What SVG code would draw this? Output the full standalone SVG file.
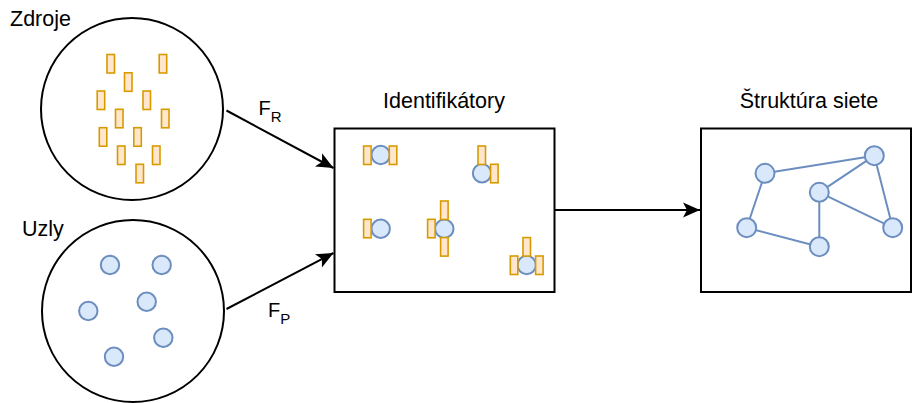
<svg xmlns="http://www.w3.org/2000/svg" width="913" height="403" viewBox="0 0 913 403">
<style>
.t{font-family:"Liberation Sans",Arial,sans-serif;font-size:21.5px;fill:#000}
.f{font-family:"Liberation Sans",Arial,sans-serif;font-size:20px;fill:#000}
.s{font-size:15px}
.big{fill:#fff;stroke:#000;stroke-width:2}
.r{fill:#ffe6cc;stroke:#d79b00;stroke-width:1.6}
.c{fill:#dae8fc;stroke:#6c8ebf;stroke-width:2}
.e{stroke:#6c8ebf;stroke-width:2;fill:none}
.a{stroke:#000;stroke-width:2;fill:none;marker-end:url(#ah)}
</style>
<defs>
<marker id="ah" markerUnits="userSpaceOnUse" markerWidth="20" markerHeight="20" viewBox="-18 -9 20 18" refX="0" refY="0" orient="auto">
<path d="M0,0 L-17,-7.5 L-13,0 L-17,7.5 Z" fill="#000"/>
</marker>
<rect id="yr" width="7.5" height="18.5" class="r"/>
</defs>
<rect width="913" height="403" fill="#fff"/>
<g id="zdroje">
<circle cx="132" cy="109" r="91" class="big"/>
<text class="t" x="10" y="26">Zdroje</text>
<use href="#yr" x="107" y="54.5"/>
<use href="#yr" x="159.2" y="54.5"/>
<use href="#yr" x="124.5" y="72.8"/>
<use href="#yr" x="97.2" y="91"/>
<use href="#yr" x="143" y="91"/>
<use href="#yr" x="115.5" y="109.3"/>
<use href="#yr" x="161.5" y="109.3"/>
<use href="#yr" x="99.3" y="127.7"/>
<use href="#yr" x="133.8" y="127.7"/>
<use href="#yr" x="117.5" y="146"/>
<use href="#yr" x="152.5" y="146"/>
<use href="#yr" x="136" y="164.3"/>
</g>
<g id="uzly">
<circle cx="133" cy="311" r="91" class="big"/>
<text class="t" x="22" y="236">Uzly</text>
<circle cx="110" cy="265" r="9.2" class="c"/>
<circle cx="161.7" cy="265" r="9.2" class="c"/>
<circle cx="88.3" cy="311" r="9.2" class="c"/>
<circle cx="146.7" cy="301.7" r="9.2" class="c"/>
<circle cx="163.3" cy="337.7" r="9.2" class="c"/>
<circle cx="114" cy="356.7" r="9.2" class="c"/>
</g>
<g id="identifikatory">
<rect x="334.5" y="128.5" width="220" height="163.5" class="big"/>
<text class="t" x="444" y="108" text-anchor="middle">Identifikátory</text>
<circle cx="380.7" cy="155" r="9.2" class="c"/>
<use href="#yr" x="363.6" y="146"/>
<use href="#yr" x="389.3" y="146"/>
<circle cx="482" cy="173.3" r="9.2" class="c"/>
<use href="#yr" x="478" y="146"/>
<use href="#yr" x="490.6" y="164.3"/>
<circle cx="380.7" cy="228.7" r="9.2" class="c"/>
<use href="#yr" x="363.6" y="219.3"/>
<circle cx="444.3" cy="228.7" r="9.2" class="c"/>
<use href="#yr" x="440.6" y="201"/>
<use href="#yr" x="427.6" y="219.3"/>
<use href="#yr" x="440.6" y="237.6"/>
<circle cx="526.7" cy="265" r="9.2" class="c"/>
<use href="#yr" x="523" y="237.6"/>
<use href="#yr" x="510.3" y="256"/>
<use href="#yr" x="535.6" y="256"/>
</g>
<g id="struktura">
<rect x="701" y="128.5" width="210" height="163.5" class="big"/>
<text class="t" x="809" y="108" text-anchor="middle">Štruktúra siete</text>
<path class="e" d="M765,173.3 L874.3,155.7 M874.3,155.7 L819.3,192.3 M874.3,155.7 L892.7,227.7 M819.3,192.3 L819.3,246.7 M819.3,192.3 L892.7,227.7 M765,173.3 L746.7,227.7 M746.7,227.7 L819.3,246.7"/>
<circle cx="765" cy="173.3" r="9.5" class="c"/>
<circle cx="874.3" cy="155.7" r="9.5" class="c"/>
<circle cx="819.3" cy="192.3" r="9.5" class="c"/>
<circle cx="746.7" cy="227.7" r="9.5" class="c"/>
<circle cx="819.3" cy="246.7" r="9.5" class="c"/>
<circle cx="892.7" cy="227.7" r="9.5" class="c"/>
</g>
<g id="connectors">
<path class="a" d="M226.5,110.5 L333.5,168"/>
<path class="a" d="M226.5,309 L333.5,253"/>
<path class="a" d="M554.5,210 L700,210"/>
<text class="f" x="258.5" y="115">F<tspan class="s" dy="6.5">R</tspan></text>
<text class="f" x="268" y="317">F<tspan class="s" dy="6.5">P</tspan></text>
</g>
</svg>
